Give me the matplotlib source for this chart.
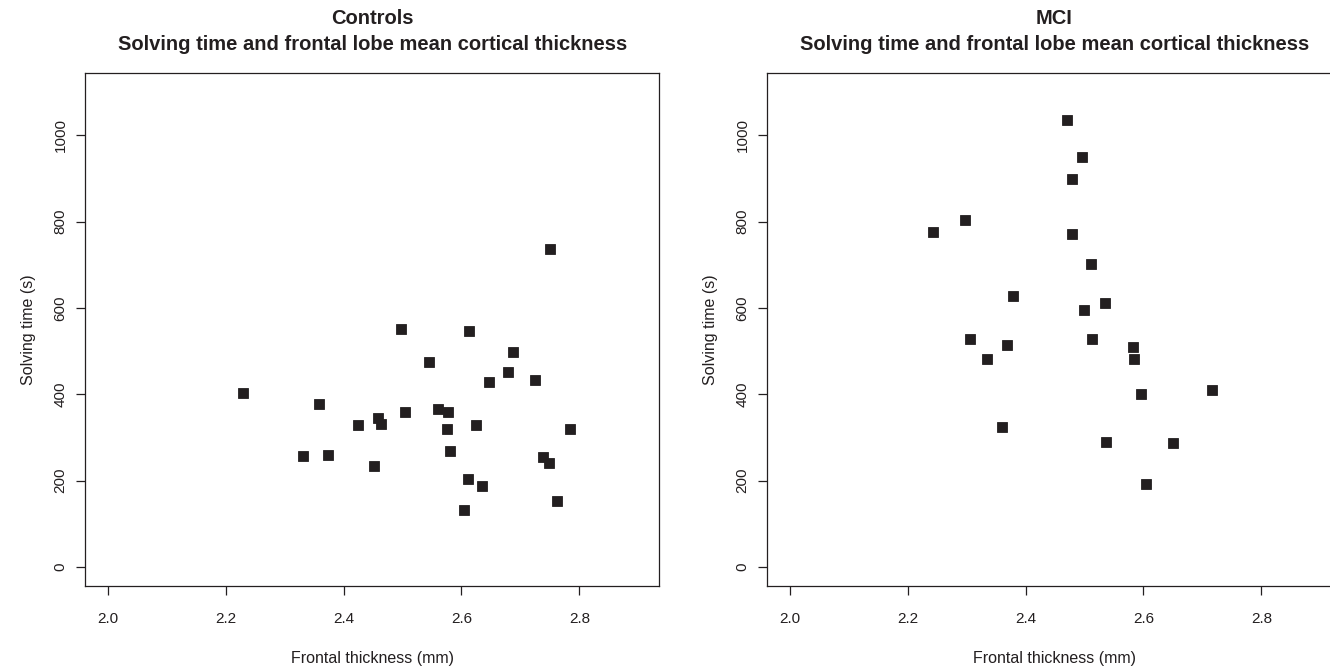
import matplotlib
matplotlib.use("Agg")
import matplotlib.pyplot as plt

# ---------------- data ----------------
controls_thickness = [2.750, 2.4975, 2.613, 2.688, 2.5445, 2.6785, 2.647, 2.725,
                      2.230, 2.358, 2.459, 2.4636, 2.424, 2.505, 2.561, 2.5768,
                      2.575, 2.625, 2.7837, 2.580, 2.331, 2.373, 2.452, 2.738,
                      2.7486, 2.611, 2.635, 2.7617, 2.605]
controls_time = [736, 552, 547, 499, 475, 451, 429, 433,
                 402, 377, 344, 332, 328, 359, 367, 358,
                 320, 328, 320, 268, 256, 260, 235, 254,
                 242, 203, 188, 154, 131]

mci_thickness = [2.471, 2.495, 2.479, 2.297, 2.2426, 2.478, 2.5116, 2.378,
                 2.534, 2.4992, 2.3059, 2.5133, 2.369, 2.583, 2.3352, 2.5835,
                 2.717, 2.596, 2.3607, 2.536, 2.650, 2.605]
mci_time = [1035, 950, 898, 803, 775, 771, 701, 628,
            612, 595, 528, 528, 515, 509, 482, 482,
            409, 401, 324, 290, 287, 192]

x_ticks = [2.0, 2.2, 2.4, 2.6, 2.8]
x_tick_labels = ["2.0", "2.2", "2.4", "2.6", "2.8"]
y_ticks = [0, 200, 400, 600, 800, 1000]
y_tick_labels = ["0", "200", "400", "600", "800", "1000"]

panel_titles = ["Controls", "MCI"]
subtitle = "Solving time and frontal lobe mean cortical thickness"
x_label = "Frontal thickness (mm)"
y_label = "Solving time (s)"

# ---------------- style ----------------
INK = "#231f20"
plt.rcParams["font.family"] = ["Liberation Sans", "DejaVu Sans"]

W, H = 1330, 668
fig = plt.figure(figsize=(W / 100, H / 100), dpi=100)

ax_bottom = 1 - 586.3 / H
ax_height = (586.3 - 73.3) / H
ax_width = (659 - 85.3) / W
lefts = [85.3 / W, 767.3 / W]

panels = [(controls_thickness, controls_time), (mci_thickness, mci_time)]

for i, (xs, ys) in enumerate(panels):
    ax = fig.add_axes([lefts[i], ax_bottom, ax_width, ax_height])
    ax.plot(xs, ys, linestyle="none", marker="s", markersize=7,
            markerfacecolor=INK, markeredgecolor=INK, markeredgewidth=0.6,
            clip_on=False)
    ax.set_xlim(1.962, 2.935)
    ax.set_ylim(-44.7, 1143.6)
    ax.set_xticks(x_ticks)
    ax.set_xticklabels(x_tick_labels)
    ax.set_yticks(y_ticks)
    ax.set_yticklabels(y_tick_labels, rotation=90, va="center")
    ax.tick_params(axis="both", direction="out", length=6.8, width=0.9,
                   colors=INK, labelsize=11)
    ax.tick_params(axis="x", pad=11.5)
    ax.tick_params(axis="y", pad=6.0)
    for sp in ax.spines.values():
        sp.set_color(INK)
        sp.set_linewidth(0.9)

    # axis labels
    ax.text(0.5, (586.3 - 658) / (586.3 - 73.3), x_label, transform=ax.transAxes,
            ha="center", va="center", fontsize=11.5, color=INK)
    ax.text(-57 / (659 - 85.3), 0.5, y_label, transform=ax.transAxes,
            ha="center", va="center", rotation=90, fontsize=11.5, color=INK)

    # two-line title
    ax.text(0.5, (586.3 - 18) / (586.3 - 73.3), panel_titles[i], transform=ax.transAxes,
            ha="center", va="center", fontsize=14.5, fontweight="bold", color=INK)
    ax.text(0.5, (586.3 - 45) / (586.3 - 73.3), subtitle, transform=ax.transAxes,
            ha="center", va="center", fontsize=14.5, fontweight="bold", color=INK)

fig.savefig("out.png", dpi=100)
